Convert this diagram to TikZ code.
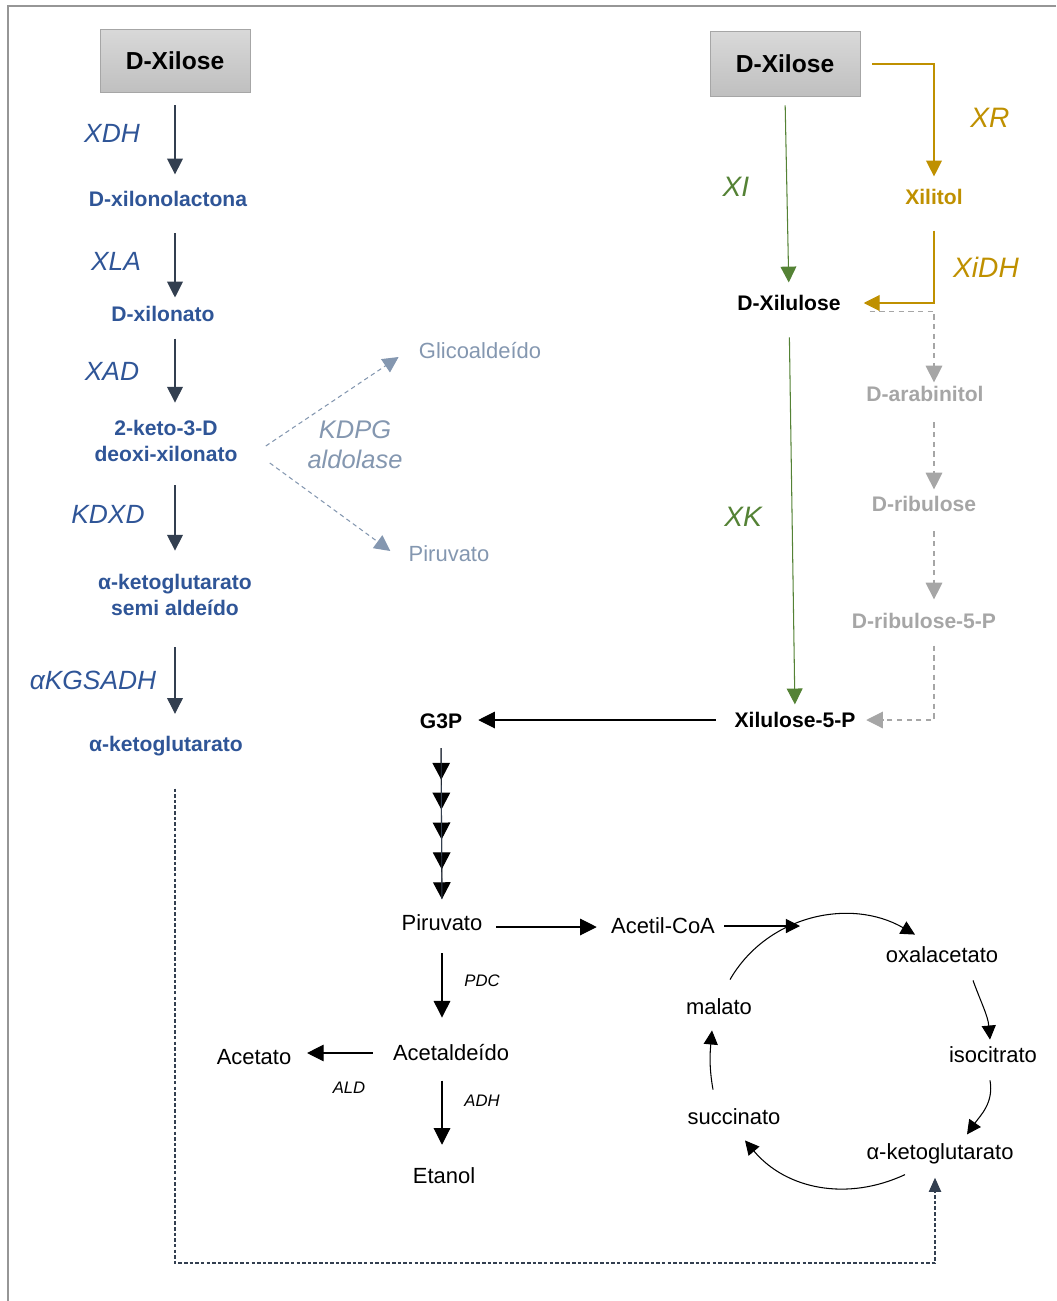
\documentclass[tikz,border=0pt]{standalone}
\usepackage{fontspec}
\setmainfont{Liberation Sans}
\usetikzlibrary{arrows.meta}

\definecolor{azulmet}{RGB}{47,85,151}
\definecolor{azulseta}{RGB}{51,63,80}
\definecolor{azulclaro}{RGB}{132,151,176}
\definecolor{verdexi}{RGB}{84,130,53}
\definecolor{ourox}{RGB}{191,144,0}
\definecolor{cinzavia}{RGB}{166,166,166}
\definecolor{cinzamold}{RGB}{150,150,150}

\tikzset{
  ponta/.tip={Triangle[length=9.6pt,width=10pt,sep=7.4pt]},
  caixa/.style={draw=cinzavia, top color=black!15, bottom color=black!25, minimum width=3cm, minimum height=1.27cm, font=\fontsize{14}{16}\selectfont\bfseries},
  metazul/.style={text=azulmet, align=center, font=\fontsize{12}{14.7}\selectfont\bfseries},
  enzazul/.style={text=azulmet, font=\fontsize{15}{17}\selectfont\itshape},
  metpreto/.style={font=\fontsize{12}{14}\selectfont\bfseries},
  metouro/.style={text=ourox, font=\fontsize{12}{14}\selectfont\bfseries},
  metcinza/.style={text=cinzavia, font=\fontsize{12}{14}\selectfont\bfseries},
  enzouro/.style={text=ourox, font=\fontsize{16}{18}\selectfont\itshape},
  enzverde/.style={text=verdexi, font=\fontsize{16}{18}\selectfont\itshape},
  kdpg/.style={text=azulclaro, align=center, font=\fontsize{14.5}{17}\selectfont\itshape},
  metclaro/.style={text=azulclaro, font=\fontsize{12.5}{14}\selectfont},
  metnormal/.style={font=\fontsize{12.5}{14}\selectfont},
  enzpreta/.style={font=\fontsize{9.5}{11}\selectfont\itshape},
  setaazul/.style={draw=azulseta, line width=0.6pt, -{Triangle[length=9pt,width=9pt]}},
  setakdpg/.style={draw=azulclaro, line width=0.6pt, dash pattern=on 2.5pt off 2pt, -{Triangle[length=9pt,width=9pt]}},
  setaverde/.style={draw=verdexi, line width=0.6pt, -{Triangle[length=9pt,width=9pt]}},
  setaouro/.style={draw=ourox, line width=0.6pt, -{Triangle[length=9pt,width=9pt]}},
  setacinza/.style={draw=cinzavia, line width=0.6pt, dash pattern=on 3pt off 2.5pt, -{Triangle[length=9.5pt,width=9.5pt]}},
  setapreta/.style={draw=black, line width=0.6pt, -{Triangle[length=9.5pt,width=9.5pt]}},
  setaciclo/.style={draw=black, line width=0.6pt, -{Triangle[length=8pt,width=8pt]}},
  multiseta/.style={draw=black, line width=0.6pt, -{ponta[]ponta[]ponta[]ponta[]ponta[]}},
  retorno/.style={draw=azulseta, line width=0.6pt, dash pattern=on 2pt off 1.2pt, -{Triangle[length=8pt,width=7pt]}}
}

\begin{document}
\begin{tikzpicture}[x=0.02cm, y=-0.02cm, every node/.style={inner sep=0pt}]
\useasboundingbox (0,0) rectangle (1056,1301);
\draw[cinzamold, line width=0.8pt] (1056,6) -- (8,6) -- (8,1301);

% via oxidativa
\node[caixa] (xilL) at (175,61) {D-Xilose};
\node[metazul] (lacto) at (168,199) {D-xilonolactona};
\node[metazul] (xilonato) at (163,314) {D-xilonato};
\node[metazul] (deoxi) at (166,441) {2-keto-3-D\\deoxi-xilonato};
\node[metazul] (semi) at (175,595) {α-ketoglutarato\\semi aldeído};
\node[metazul] (akgL) at (166,746) {α-ketoglutarato};
\node[enzazul] (xdh) at (112,133) {XDH};
\node[enzazul] (xla) at (116,261) {XLA};
\node[enzazul] (xad) at (112,371) {XAD};
\node[enzazul] (kdxd) at (108,514) {KDXD};
\node[enzazul] (akgsadh) at (93,680) {αKGSADH};
\node[kdpg] (aldolase) at (355,445) {KDPG\\aldolase};
\node[metclaro] (glic) at (480,351) {Glicoaldeído};
\node[metclaro] (pirG) at (449,554) {Piruvato};

\draw[setaazul, shorten <=6.8pt, shorten >=9.4pt] (xilL.south) -- (xilL |- lacto.north);
\draw[setaazul, shorten <=15pt, shorten >=4.8pt] (xilL |- lacto.south) -- (xilL |- xilonato.north);
\draw[setaazul, shorten <=9.4pt, shorten >=9.9pt] (xilL |- xilonato.south) -- (xilL |- deoxi.north);
\draw[setaazul, shorten <=13.3pt, shorten >=13.3pt] (xilL |- deoxi.south) -- (xilL |- semi.north);
\draw[setaazul, shorten <=17.9pt, shorten >=12.5pt] (xilL |- semi.south) -- (xilL |- akgL.north);
\draw[setakdpg] ([shift={(28,5)}]deoxi.east) -- ([shift={(-20,6)}]glic.west);
\draw[setakdpg] ([shift={(32,22)}]deoxi.east) -- ([shift={(-18,-3)}]pirG.west);

% vias XI e XR
\node[caixa, minimum height=1.3cm] (xilR) at (785,64) {D-Xilose};
\node[metouro] (xilitol) at (934,197) {Xilitol};
\node[metpreto] (xilulose) at (789,303) {D-Xilulose};
\node[metcinza] (arab) at (925,394) {D-arabinitol};
\node[metcinza] (rib) at (924,504) {D-ribulose};
\node[metcinza] (rib5p) at (924,621) {D-ribulose-5-P};
\node[metpreto] (x5p) at (795,720) {Xilulose-5-P};
\node[metpreto] (g3p) at (441,721) {G3P};
\node[enzouro] (xr) at (990,118) {XR};
\node[enzouro] (xidh) at (986,267) {XiDH};
\node[enzverde] (xi) at (736,187) {XI};
\node[enzverde] (xk) at (743,517) {XK};

\draw[setaverde, shorten <=4.8pt, shorten >=7.1pt] (xilR.south) -- (xilulose.north);
\draw[setaouro, shorten <=6.8pt, shorten >=7.1pt] (xilR.east) -| (xilitol.north);
\draw[setaouro, shorten <=14.5pt, shorten >=13pt] (xilitol.south) |- (xilulose.east);
\draw[setacinza, shorten <=16.4pt, shorten >=2pt] (xilulose.south east) -| (xilitol |- arab.north);
\draw[setacinza, shorten <=11.6pt, shorten >=3.7pt] (xilitol |- arab.south) -- (xilitol |- rib.north);
\draw[setacinza, shorten <=11pt, shorten >=7.7pt] (xilitol |- rib.south) -- (xilitol |- rib5p.north);
\draw[setacinza, shorten <=9.4pt, shorten >=6pt] (xilitol |- rib5p.south) |- (x5p.east);
\draw[setaverde, shorten <=15pt, shorten >=4.3pt] (xilulose.south) -- (x5p.north);
\draw[setapreta, shorten <=10.5pt, shorten >=9pt] (x5p.west) -- (x5p.west -| g3p.east);

% glicolise e fermentacao
\node[metnormal] (pir) at (442,923) {Piruvato};
\node[metnormal] (acoa) at (663,926) {Acetil-CoA};
\node[metnormal] (ald) at (451,1053) {Acetaldeído};
\node[metnormal] (acet) at (254,1057) {Acetato};
\node[metnormal] (etanol) at (444,1176) {Etanol};
\node[enzpreta] (pdc) at (482,981) {PDC};
\node[enzpreta] (aldh) at (349,1088) {ALD};
\node[enzpreta] (adh) at (482,1101) {ADH};

\draw[multiseta, shorten <=11pt, shorten >=1.4pt] (g3p.south) -- (pir.north);
\draw[azulseta, line width=0.5pt, shorten <=11pt, shorten >=8.8pt] (g3p.south) -- (pir.north);
\draw[setapreta, shorten <=7.7pt, shorten >=8pt] ([shift={(0,4)}]pir.east) -- ([shift={(0,4)}]pir.east -| acoa.west);
\draw[setapreta, shorten <=12.5pt, shorten >=15.3pt] (pir.south) -- (pir.south |- ald.north);
\draw[setapreta, shorten <=11.2pt, shorten >=8.8pt] (ald.west) -- (ald.west -| acet.east);
\draw[setapreta, shorten <=10.8pt, shorten >=13pt] (pir.south |- ald.south) -- (pir.south |- etanol.north);

% ciclo de Krebs
\node[metnormal] (oxala) at (942,955) {oxalacetato};
\node[metnormal] (isoc) at (993,1055) {isocitrato};
\node[metnormal] (akgC) at (940,1154) {α-ketoglutarato};
\node[metnormal] (succ) at (734,1117) {succinato};
\node[metnormal] (malato) at (719,1007) {malato};
\coordinate (entrada) at (800,926);
\coordinate (volta) at (175,1263);

\draw[setaciclo, shorten <=5pt] (acoa.east) -- (entrada);
\draw[setaciclo] ([shift={(11,-19)}]malato.north) to[out=60,in=150] ([shift={(-27,-12)}]oxala.north);
\draw[setaciclo] ([shift={(31,17)}]oxala.south) to[out=-70,in=95] ([shift={(-3,-7)}]isoc.north);
\draw[setaciclo] ([shift={(-3,17)}]isoc.south) to[out=-80,in=55] ([shift={(27,-9)}]akgC.north);
\draw[setaciclo] ([shift={(-35,10)}]akgC.south) to[out=205,in=-50] ([shift={(11,15)}]succ.south);
\draw[setaciclo] ([shift={(-21,-19)}]succ.north) to[out=100,in=-95] ([shift={(-7,15)}]malato.south);

\draw[retorno, shorten <=18.4pt, shorten >=7.5pt] (volta |- akgL.south) -- (volta) -| ([shift={(-5,0)}]akgC.south);
\end{tikzpicture}
\end{document}
